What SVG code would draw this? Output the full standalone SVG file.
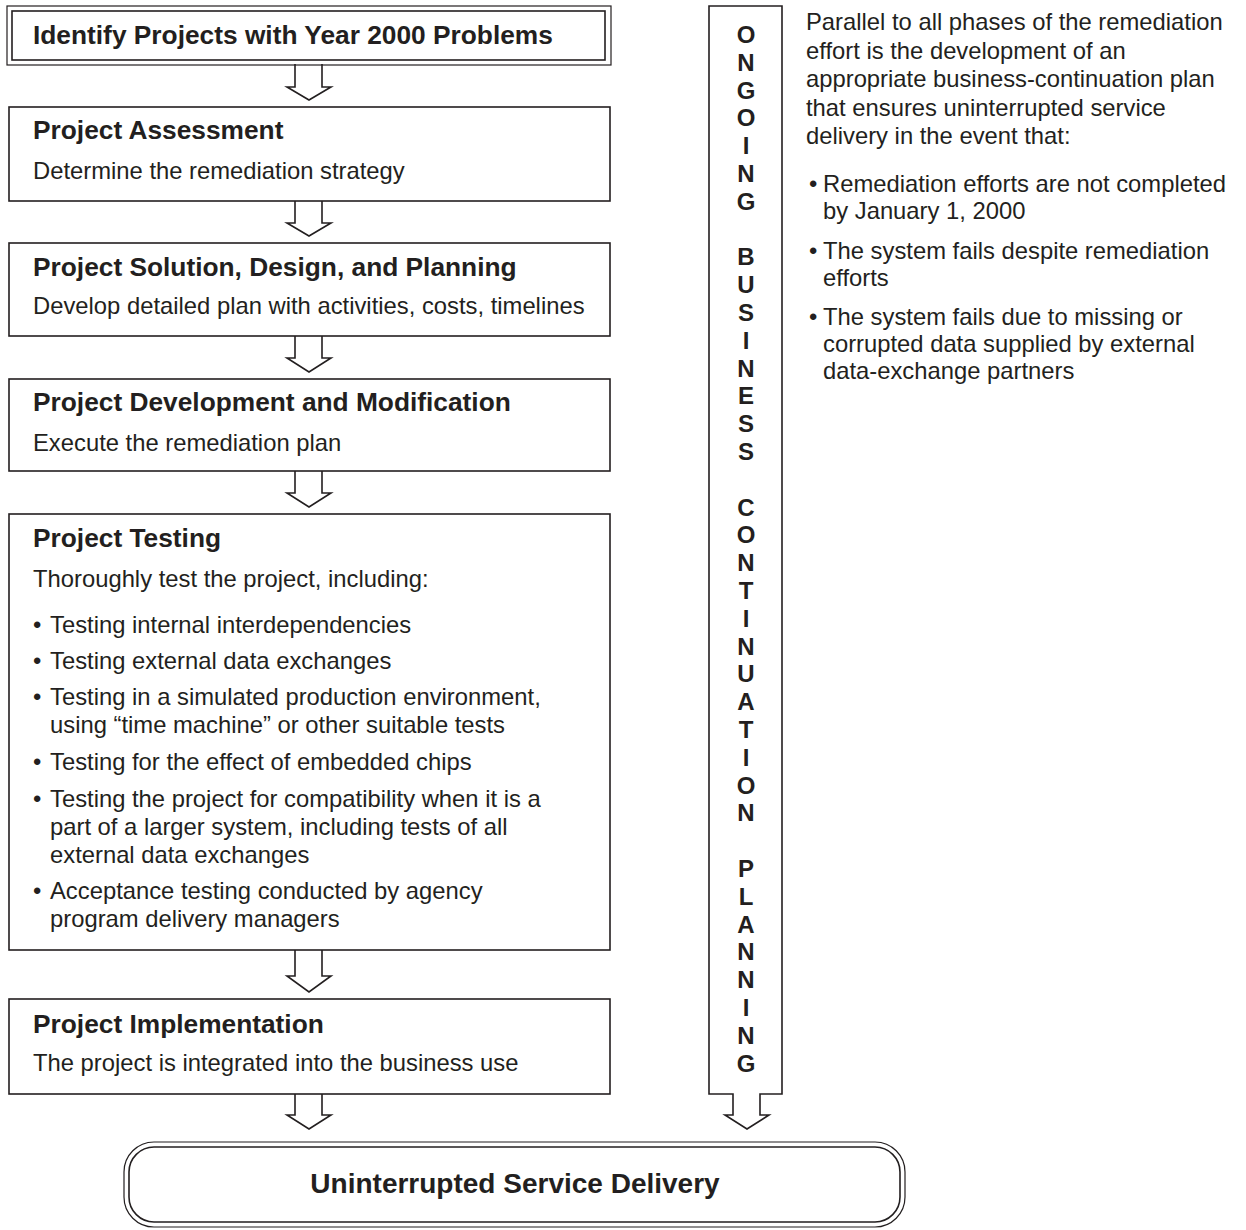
<svg xmlns="http://www.w3.org/2000/svg" width="1246" height="1230" viewBox="0 0 1246 1230">
<style>
.ln{fill:#fff;stroke:#231f20;stroke-width:1.6}
.thin{fill:none;stroke:#231f20;stroke-width:1.2}
text{font-family:"Liberation Sans",Arial,sans-serif;fill:#231f20}
.h{font-weight:bold;font-size:26.3px}
.s{font-size:23.8px}
.v{font-weight:bold;font-size:24px;text-anchor:middle}
.c{font-weight:bold;font-size:28px;text-anchor:middle}
</style>
<rect width="1246" height="1230" fill="#fff"/>
<g id="connectors">
<path class="ln" d="M295,64 V87 H287 L309,100 L331,87 H322 V64"/>
<path class="ln" d="M295,200 V223 H287 L309,236 L331,223 H322 V200"/>
<path class="ln" d="M295,335 V358 H287 L309,372 L331,358 H322 V335"/>
<path class="ln" d="M295,470 V493 H287 L309,507 L331,493 H322 V470"/>
<path class="ln" d="M295,949 V976 H287 L309,992 L331,976 H322 V949"/>
<path class="ln" d="M295,1093 V1115 H287 L309,1129 L331,1115 H322 V1093"/>
</g>
<g id="n-identify">
<rect class="thin" x="7" y="6" width="604" height="59"/>
<rect class="ln" x="12" y="11" width="593" height="49"/>
<text class="h" x="33" y="44">Identify Projects with Year 2000 Problems</text>
</g>
<g id="n-assessment">
<rect class="ln" x="9" y="107" width="601" height="94"/>
<text class="h" x="33" y="139">Project Assessment</text>
<text class="s" x="33" y="179">Determine the remediation strategy</text>
</g>
<g id="n-solution">
<rect class="ln" x="9" y="243" width="601" height="93"/>
<text class="h" x="33" y="276">Project Solution, Design, and Planning</text>
<text class="s" x="33" y="314">Develop detailed plan with activities, costs, timelines</text>
</g>
<g id="n-development">
<rect class="ln" x="9" y="379" width="601" height="92"/>
<text class="h" x="33" y="411">Project Development and Modification</text>
<text class="s" x="33" y="451">Execute the remediation plan</text>
</g>
<g id="n-testing">
<rect class="ln" x="9" y="514" width="601" height="436"/>
<text class="h" x="33" y="547">Project Testing</text>
<text class="s" x="33" y="587">Thoroughly test the project, including:</text>
<text class="s" x="33" y="633">•<tspan x="50">Testing internal interdependencies</tspan></text>
<text class="s" x="33" y="669">•<tspan x="50">Testing external data exchanges</tspan></text>
<text class="s" x="33" y="705">•<tspan x="50">Testing in a simulated production environment,</tspan><tspan x="50" y="733">using “time machine” or other suitable tests</tspan></text>
<text class="s" x="33" y="770">•<tspan x="50">Testing for the effect of embedded chips</tspan></text>
<text class="s" x="33" y="807">•<tspan x="50">Testing the project for compatibility when it is a</tspan><tspan x="50" y="835">part of a larger system, including tests of all</tspan><tspan x="50" y="863">external data exchanges</tspan></text>
<text class="s" x="33" y="899">•<tspan x="50">Acceptance testing conducted by agency</tspan><tspan x="50" y="927">program delivery managers</tspan></text>
</g>
<g id="n-implementation">
<rect class="ln" x="9" y="999" width="601" height="95"/>
<text class="h" x="33" y="1033">Project Implementation</text>
<text class="s" x="33" y="1071">The project is integrated into the business use</text>
</g>
<g id="n-continuity">
<path class="ln" d="M709,6 H782 V1094 H760 V1115 H769 L747,1129 L725,1115 H733 V1094 H709 Z"/>
<text class="v"><tspan x="746" y="43">O</tspan><tspan x="746" y="70.8">N</tspan><tspan x="746" y="98.6">G</tspan><tspan x="746" y="126.4">O</tspan><tspan x="746" y="154.2">I</tspan><tspan x="746" y="182">N</tspan><tspan x="746" y="209.8">G</tspan><tspan x="746" y="265.4">B</tspan><tspan x="746" y="293.2">U</tspan><tspan x="746" y="321">S</tspan><tspan x="746" y="348.8">I</tspan><tspan x="746" y="376.6">N</tspan><tspan x="746" y="404.4">E</tspan><tspan x="746" y="432.2">S</tspan><tspan x="746" y="460">S</tspan><tspan x="746" y="515.6">C</tspan><tspan x="746" y="543.4">O</tspan><tspan x="746" y="571.2">N</tspan><tspan x="746" y="599">T</tspan><tspan x="746" y="626.8">I</tspan><tspan x="746" y="654.6">N</tspan><tspan x="746" y="682.4">U</tspan><tspan x="746" y="710.2">A</tspan><tspan x="746" y="738">T</tspan><tspan x="746" y="765.8">I</tspan><tspan x="746" y="793.6">O</tspan><tspan x="746" y="821.4">N</tspan><tspan x="746" y="877">P</tspan><tspan x="746" y="904.8">L</tspan><tspan x="746" y="932.6">A</tspan><tspan x="746" y="960.4">N</tspan><tspan x="746" y="988.2">N</tspan><tspan x="746" y="1016">I</tspan><tspan x="746" y="1043.8">N</tspan><tspan x="746" y="1071.6">G</tspan></text>
</g>
<g id="n-note">
<text class="s"><tspan x="806" y="30">Parallel to all phases of the remediation</tspan><tspan x="806" y="58.5">effort is the development of an</tspan><tspan x="806" y="87">appropriate business-continuation plan</tspan><tspan x="806" y="115.5">that ensures uninterrupted service</tspan><tspan x="806" y="144">delivery in the event that:</tspan></text>
<text class="s" x="809" y="192">•<tspan x="823">Remediation efforts are not completed</tspan><tspan x="823" y="219">by January 1, 2000</tspan></text>
<text class="s" x="809" y="259">•<tspan x="823">The system fails despite remediation</tspan><tspan x="823" y="286">efforts</tspan></text>
<text class="s" x="809" y="325">•<tspan x="823">The system fails due to missing or</tspan><tspan x="823" y="352">corrupted data supplied by external</tspan><tspan x="823" y="379">data-exchange partners</tspan></text>
</g>
<g id="n-delivery">
<rect class="thin" x="124" y="1142" width="781" height="85" rx="30"/>
<rect class="ln" x="129" y="1147" width="771" height="75" rx="25"/>
<text class="c" x="515" y="1193">Uninterrupted Service Delivery</text>
</g>
</svg>
